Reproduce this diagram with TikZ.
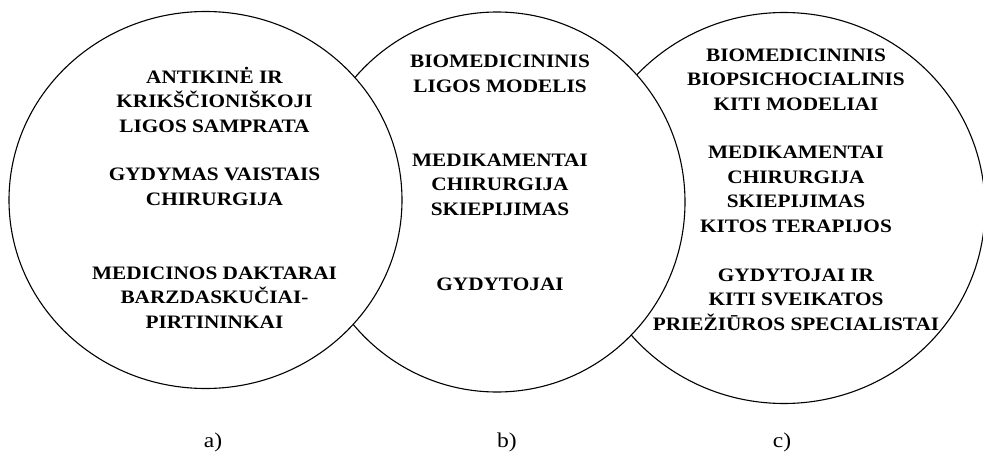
\documentclass[tikz,border=0pt]{standalone}
\usepackage{fontspec}
\setmainfont{Liberation Serif}[FakeStretch=1.12]
\usepackage{tikz}
\usetikzlibrary{shapes.geometric, positioning}

\begin{document}
\begin{tikzpicture}[x=1pt, y=-1pt]
        % Setup the styles for the rings and the texts
        \tikzset{ring style/.style={ellipse,
                                    draw,
                                    fill=white,
                                    line width=1.1pt,
                                    inner sep=0pt},
                 text style/.style={font=\fontsize{19}{24.5}\selectfont\bfseries,
                                    align=center,
                                    anchor=base,
                                    inner sep=0pt},
                 tag style/.style={font=\fontsize{21}{24}\selectfont,
                                   anchor=base,
                                   inner sep=0pt}}
        \useasboundingbox (0,0) rectangle (983,455);

        % Draw the rings, back to front
        \node[ring style, minimum width=402pt, minimum height=391pt] at (784,208)   (ringc) {};
        \node[ring style, minimum width=376pt, minimum height=380pt] at (497,202)   (ringb) {};
        \node[ring style, minimum width=393pt, minimum height=377pt] at (205.5,200) (ringa) {};

        % Texts of ring a (placed at the baseline of their last line)
        \node[text style] at (214.5,132) (ideaa) {ANTIKINĖ IR\\KRIKŠČIONIŠKOJI\\LIGOS SAMPRATA};
        \node[text style] at (214.5,205) (curea) {GYDYMAS VAISTAIS\\CHIRURGIJA};
        \node[text style] at (214.5,328) (whoa)  {MEDICINOS DAKTARAI\\BARZDASKUČIAI-\\PIRTININKAI};

        % Texts of ring b
        \node[text style] at (500,92)  (ideab) {BIOMEDICININIS\\LIGOS MODELIS};
        \node[text style] at (500,215) (cureb) {MEDIKAMENTAI\\CHIRURGIJA\\SKIEPIJIMAS};
        \node[text style] at (500,290) (whob)  {GYDYTOJAI};

        % Texts of ring c
        \node[text style] at (796,110) (ideac) {BIOMEDICININIS\\BIOPSICHOCIALINIS\\KITI MODELIAI};
        \node[text style] at (796,232) (curec) {MEDIKAMENTAI\\CHIRURGIJA\\SKIEPIJIMAS\\KITOS TERAPIJOS};
        \node[text style] at (796,330) (whoc)  {GYDYTOJAI IR\\KITI SVEIKATOS\\PRIEŽIŪROS SPECIALISTAI};

        % Captions
        \node[tag style] at (213,447) (taga) {a)};
        \node[tag style] at (507,447) (tagb) {b)};
        \node[tag style] at (782,447) (tagc) {c)};
\end{tikzpicture}
\end{document}
